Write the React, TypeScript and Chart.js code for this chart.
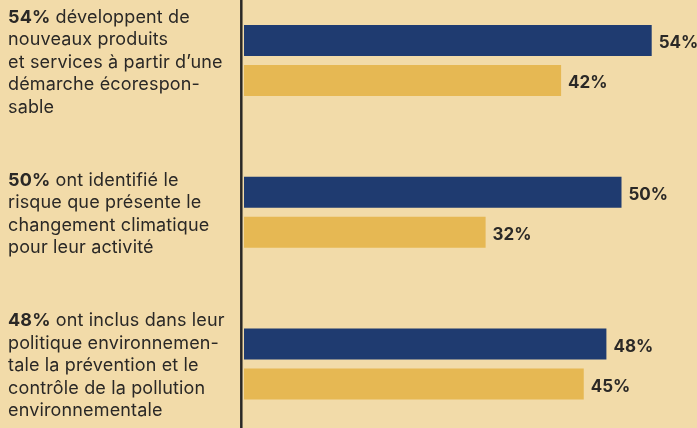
import React, { useEffect, useRef } from "react";
import { Chart, registerables } from "chart.js";

Chart.register(...registerables);

// ---- data ----
const categoryLines: string[][] = [
  [" développent de", "nouveaux produits", "et services à partir d’une", "démarche écorespon-", "sable"],
  [" ont identifié le", "risque que présente le", "changement climatique", "pour leur activité"],
  [" ont inclus dans leur", "politique environnemen-", "tale la prévention et le", "contrôle de la pollution", "environnementale"],
];
const categoryIndex = [0, 1, 2];
const seriesNavy = [54, 50, 48];
const seriesGold = [42, 32, 45];

const BG = "#F2DBA9";
const NAVY = "#1F3B70";
const GOLD = "#E6B853";
const TEXT = "#2A2826";
const FONT = "Inter";

export default function App() {
  const ref = useRef<HTMLCanvasElement | null>(null);

  useEffect(() => {
    document.body.style.margin = "0";
    const canvas = ref.current;
    if (!canvas) return;

    const decor = {
      id: "decor",
      beforeDraw(chart: any) {
        const ctx = chart.ctx;
        ctx.save();
        ctx.fillStyle = BG;
        ctx.fillRect(0, 0, chart.width, chart.height);
        ctx.restore();
      },
      afterDatasetsDraw(chart: any) {
        const ctx = chart.ctx;
        const yScale = chart.scales.y;
        ctx.save();
        // vertical axis line
        ctx.strokeStyle = TEXT;
        ctx.lineWidth = 2.5;
        ctx.beginPath();
        ctx.moveTo(241.3, 0);
        ctx.lineTo(241.3, chart.height);
        ctx.stroke();

        // value labels
        ctx.fillStyle = TEXT;
        ctx.font = `700 17px ${FONT}`;
        ctx.textBaseline = "alphabetic";
        ctx.textAlign = "left";
        chart.data.datasets.forEach((ds: any, di: number) => {
          const meta = chart.getDatasetMeta(di);
          meta.data.forEach((el: any, i: number) => {
            const v = ds.data[i].x;
            ctx.fillText(`${v}%`, el.x + 7, el.y + 7.5);
          });
        });

        // category texts
        const lh = 22.4;
        try { (ctx as any).letterSpacing = "0.15px"; } catch (e) {}
        categoryLines.forEach((lines, i) => {
          const cy = yScale.getPixelForValue(categoryIndex[i]) + 7.2;
          const n = lines.length;
          lines.forEach((line, j) => {
            const by = cy + (j - (n - 1) / 2) * lh;
            let x = 8;
            if (j === 0) {
              const prefix = `${seriesNavy[i]}%`;
              ctx.font = `700 18px ${FONT}`;
              ctx.fillText(prefix, x, by);
              x += ctx.measureText(prefix).width;
            }
            ctx.font = `400 18px ${FONT}`;
            ctx.fillText(line, x, by);
          });
        });
        ctx.restore();
      },
    };

    const chart = new Chart(canvas, {
      type: "bar",
      data: {
        datasets: [
          {
            label: "A",
            data: categoryIndex.map((c, i) => ({ x: seriesNavy[i], y: c })),
            backgroundColor: NAVY,
            categoryPercentage: 80 / 151.75,
            barPercentage: 0.775,
          },
          {
            label: "B",
            data: categoryIndex.map((c, i) => ({ x: seriesGold[i], y: c })),
            backgroundColor: GOLD,
            categoryPercentage: 80 / 151.75,
            barPercentage: 0.775,
          },
        ],
      },
      options: {
        indexAxis: "y",
        responsive: false,
        animation: false,
        layout: { padding: { left: 244, right: 0, top: 0, bottom: 0 } },
        plugins: { legend: { display: false }, tooltip: { enabled: false } },
        scales: {
          x: { type: "linear", min: 0, max: 60, display: false },
          y: {
            type: "linear",
            reverse: true,
            offset: false,
            bounds: "data",
            min: -0.3987,
            max: 2.4217,
            display: false,
            afterBuildTicks: (scale: any) => {
              scale.ticks = categoryIndex.map((v) => ({ value: v }));
            },
          },
        },
      },
      plugins: [decor],
    } as any);

    return () => chart.destroy();
  }, []);

  return (
    <div style={{ width: 697, height: 428, background: BG }}>
      <canvas ref={ref} width={697} height={428} style={{ display: "block" }} />
    </div>
  );
}
